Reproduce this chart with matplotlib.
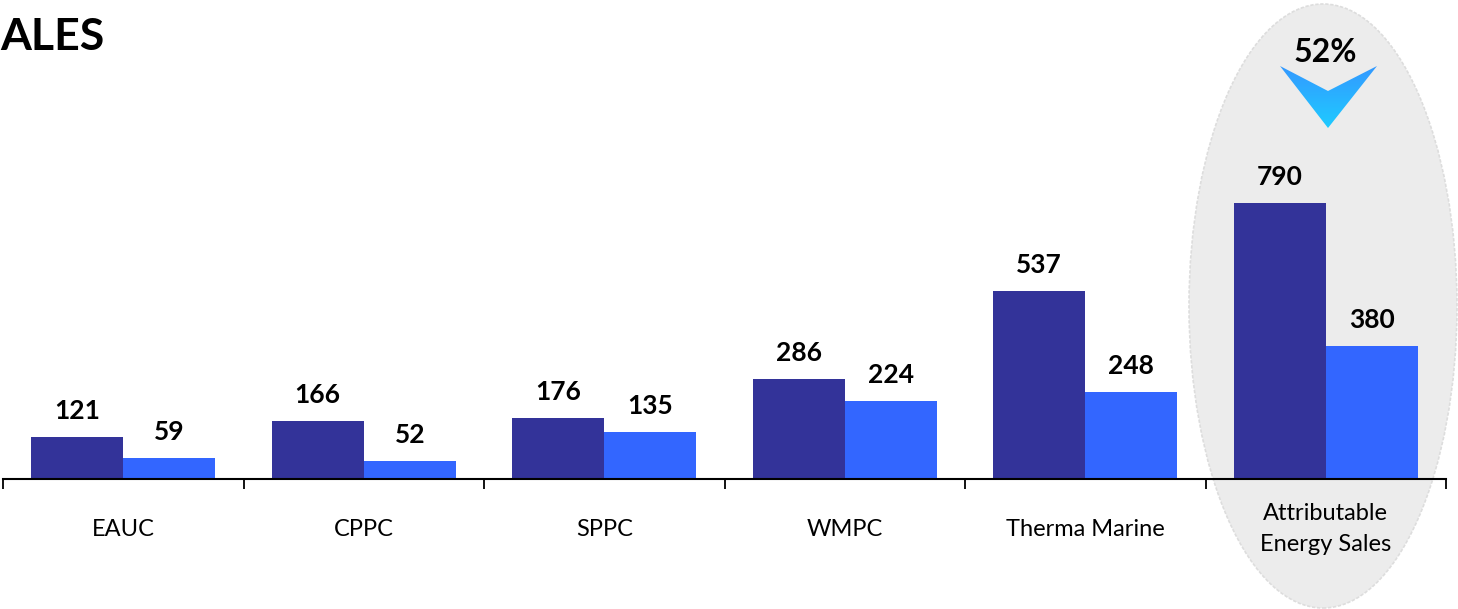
import numpy as np
import matplotlib.pyplot as plt
from matplotlib.patches import Ellipse, Polygon
from matplotlib.colors import LinearSegmentedColormap

plt.rcParams['font.family'] = ['Lato', 'DejaVu Sans']

categories = ['EAUC', 'CPPC', 'SPPC', 'WMPC', 'Therma Marine', 'Attributable\nEnergy Sales']
dark_vals = [121, 166, 176, 286, 537, 790]
light_vals = [59, 52, 135, 224, 248, 380]
change_label = '52%'

dark_col = '#333399'
light_col = '#3366FF'

fig = plt.figure(figsize=(14.58, 6.09), dpi=100)
ax = fig.add_axes([3/1458, 130/609, 1443/1458, 479/609])
ax.patch.set_alpha(0)

# grey highlight behind the last group
ell = Ellipse((1323/1458, 1 - 306/609), 268/1458, 604/609, transform=fig.transFigure,
              facecolor='#ECECEC', edgecolor='#DDDDDD', linestyle=(0, (2, 1)), lw=1.2,
              zorder=0, clip_on=False)
ax.add_patch(ell)

x = np.arange(len(categories))
w = 0.383
b1 = ax.bar(x - w/2, dark_vals, w, color=dark_col, zorder=3)
b2 = ax.bar(x + w/2, light_vals, w, color=light_col, zorder=3)

for bars, vals in [(b1, dark_vals), (b2, light_vals)]:
    for b, v in zip(bars, vals):
        ax.annotate(str(v), (b.get_x() + b.get_width()/2, v), xytext=(0, 10),
                    textcoords='offset points', ha='center', va='bottom',
                    fontsize=19, fontweight='bold', color='black')

ax.set_xlim(-0.5, len(categories) - 0.5)
ax.set_ylim(0, 1371)
for s in ['top', 'right', 'left']:
    ax.spines[s].set_visible(False)
ax.spines['bottom'].set_linewidth(1.5)
ax.spines['bottom'].set_zorder(4)
ax.set_yticks([])
ax.set_xticks(np.arange(-0.5, len(categories)))
ax.set_xticklabels([])
ax.tick_params(axis='x', length=7, width=1.3, direction='out')
ax.set_xticks(x, minor=True)
ax.set_xticklabels(categories, minor=True, fontsize=17, linespacing=1.55)
ax.tick_params(axis='x', which='minor', length=0, pad=36)
for lab in ax.get_xticklabels(minor=True):
    lab.set_verticalalignment('center')

# chevron arrow with gradient
pts = np.array([[1280, 66], [1328, 91], [1377, 66], [1328, 128]], dtype=float)
pts[:, 0] /= 1458
pts[:, 1] = 1 - pts[:, 1] / 609
poly = Polygon(pts, closed=True, transform=fig.transFigure, facecolor='none', edgecolor='none')
gax = fig.add_axes([1280/1458, 1 - 128/609, 97/1458, 62/609], zorder=5)
gax.axis('off')
gax.add_patch(poly)
grad = np.linspace(0, 1, 100).reshape(-1, 1)
cmap = LinearSegmentedColormap.from_list('g', ['#3399FF', '#1FCBFF'])
im = gax.imshow(grad, cmap=cmap, aspect='auto', extent=[0, 1, 0, 1], origin='upper')
im.set_clip_path(poly)
fig.text(1325/1458, 1 - 52/609, change_label, ha='center', va='center',
         fontsize=23, fontweight='bold', zorder=6)

fig.text(0, 1 - 37/609, 'ALES', ha='left', va='center', fontsize=32, fontweight='bold')

fig.savefig('out.png', dpi=100)
